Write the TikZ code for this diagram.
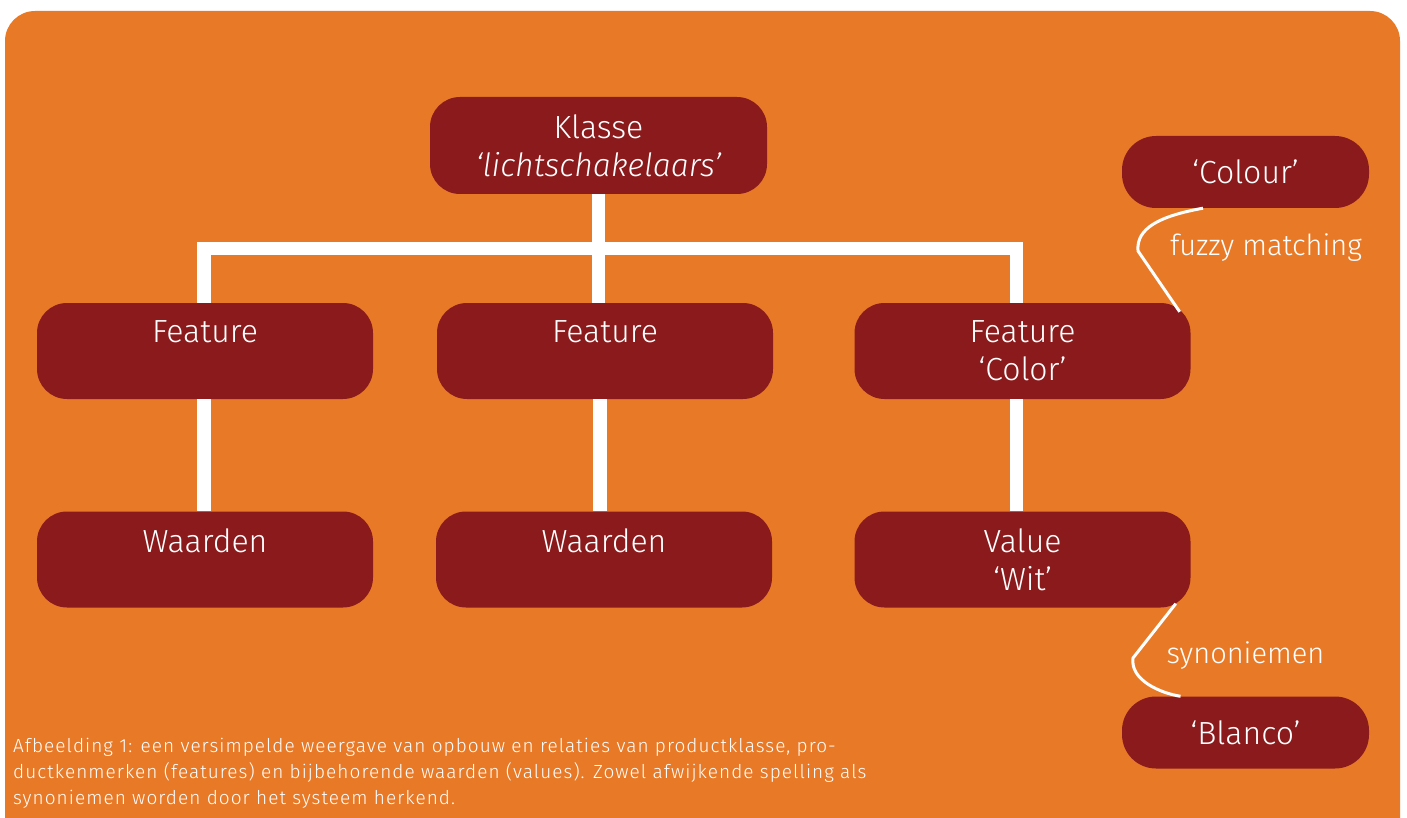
\documentclass[tikz,border=0pt]{standalone}
\usepackage{fontspec}
\setmainfont{Fira Sans Light}[ItalicFont={Fira Sans Light Italic}]
\newfontfamily\bijschriftfont{Fira Sans Light}[LetterSpace=5.5]
\definecolor{oranje}{HTML}{E87A27}
\definecolor{donkerrood}{HTML}{8B1A1C}
\begin{document}
\begin{tikzpicture}[x=1pt,y=-1pt,
  box/.style={rounded corners=30pt, fill=donkerrood, text=white, minimum width=336pt, minimum height=96pt, inner sep=0pt, align=center, font=\fontsize{32}{38}\selectfont},
  tag/.style={rounded corners=34pt, fill=donkerrood, text=white, minimum width=247pt, minimum height=72pt, inner sep=0pt, font=\fontsize{32}{38}\selectfont},
  tree/.style={white, line width=13.5pt},
  link/.style={white, line width=3pt},
  note/.style={text=white, inner sep=0pt, font=\fontsize{29}{34}\selectfont}]
\useasboundingbox (0,0) rectangle (1407,818);
\clip (0,0) rectangle (1407,818);
\fill[oranje, rounded corners=30pt] (5,11) rectangle (1400,850);
\node[box, minimum width=337pt, minimum height=97pt] (kls) at (598.5,145.5){Klasse\\\textit{‘lichtschakelaars’}};
\node[box] (ft1) at (205,351){Feature\\\mbox{}};
\node[box] (ft2) at (605,351){Feature\\\mbox{}};
\node[box] (ft3) at (1022.5,351){Feature\\‘Color’};
\node[box] (wd1) at (205,559.5){Waarden\\\mbox{}};
\node[box] (wd2) at (604,559.5){Waarden\\\mbox{}};
\node[box] (wd3) at (1022.5,559.5){Value\\‘Wit’};
\node[tag] (col) at (1245.5,172){‘Colour’};
\node[tag] (bla) at (1245.5,732.5){‘Blanco’};
\coordinate (tak) at (598.5,248.5);
\draw[tree] (kls.south) -- (kls.south |- ft2.north);
\draw[tree] ([xshift=-1pt]ft1.north) |- (tak) -| ([xshift=-6pt]ft3.north);
\draw[tree] ([xshift=-1pt]ft1.south) -- ([xshift=-1pt]wd1.north);
\draw[tree] ([xshift=-5pt]ft2.south) -- ([xshift=-4pt]wd2.north);
\draw[tree] ([xshift=-6pt]ft3.south) -- ([xshift=-6pt]wd3.north);
\draw[link] ([xshift=-42.5pt]col.south) .. controls (1160,216) and (1136,228) .. (1138,251) -- ([xshift=-11pt,yshift=-9pt]ft3.north east);
\draw[link] ([xshift=-15pt,yshift=4pt]wd3.south east) -- (1133,658) .. controls (1130,680) and (1160,693) .. ([xshift=-65pt]bla.north);
\node[note, anchor=base] (fz) at (1266,255){fuzzy matching};
\node[note, anchor=base] (syn) at (1245.5,663){synoniemen};
\node[note, anchor=north west, align=left, font=\bijschriftfont\fontsize{19}{26}\selectfont] (bijschrift) at (13,737.5){Afbeelding 1: een versimpelde weergave van opbouw en relaties van productklasse, pro-\\ductkenmerken (features) en bijbehorende waarden (values). Zowel afwijkende spelling als\\synoniemen worden door het systeem herkend.};
\end{tikzpicture}
\end{document}
